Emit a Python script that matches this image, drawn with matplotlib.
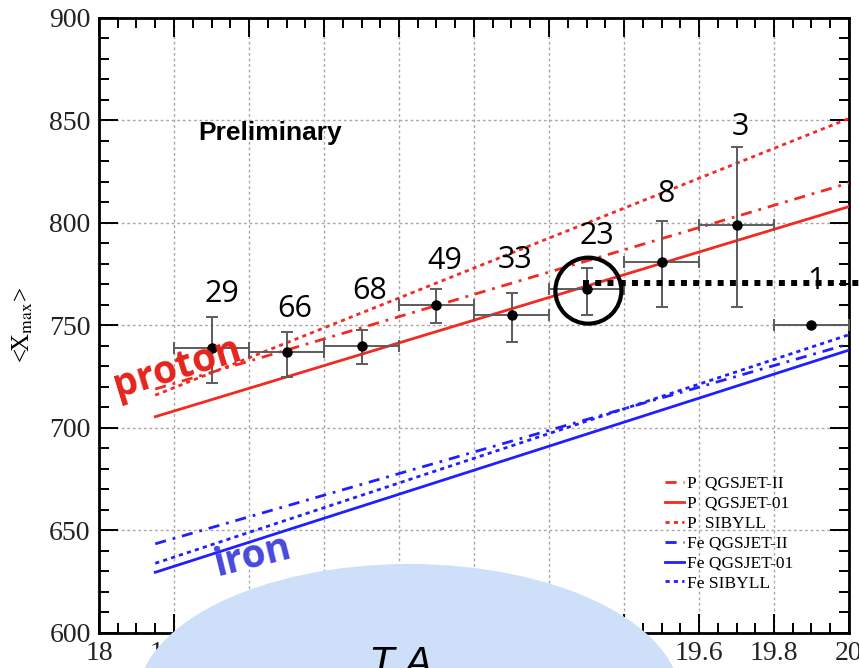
"""
Mean depth of shower maximum vs energy, with proton / iron model lines
"""
import matplotlib
matplotlib.use("Agg")
from matplotlib import pyplot as plt
from matplotlib.patches import Ellipse
from matplotlib.ticker import MultipleLocator

plt.rcParams["font.family"] = ["Liberation Serif", "DejaVu Serif"]
plt.rcParams["mathtext.fontset"] = "stix"

# measured <Xmax> per energy bin
log_e = [18.3, 18.5, 18.7, 18.9, 19.1, 19.3, 19.5, 19.7, 19.9]
xmax = [739, 737, 740, 760, 755, 768, 781, 799, 750]
err_lo = [17, 12, 9, 9, 13, 13, 22, 40, 0]
err_hi = [15, 10, 8, 8, 11, 10, 20, 38, 0]
bin_half = [0.1] * 9
n_events = [29, 66, 68, 49, 33, 23, 8, 3, 1]

# model predictions, given at the two ends of the energy range
model_e = [18.15, 20.0]
models = [
    ("P  QGSJET-II", [719, 819.5]),
    ("P  QGSJET-01", [705.5, 808]),
    ("P  SIBYLL", [716, 851]),
    ("Fe QGSJET-II", [643.5, 741]),
    ("Fe QGSJET-01", [629.6, 738]),
    ("Fe SIBYLL", [634, 745.5]),
]

W, H = 859, 668
fig = plt.figure(figsize=(W / 100, H / 100), dpi=100)
ax = fig.add_axes([99 / W, 35 / H, 750 / W, 615 / H])

RED = "#f22a22"
BLUE = "#1f1fff"
styles = [
    dict(color=RED, ls=(0, (4, 2.5, 1, 2.5))),
    dict(color=RED, ls="-"),
    dict(color=RED, ls=(0, (1.5, 1.5))),
    dict(color=BLUE, ls=(0, (4, 2.5, 1, 2.5))),
    dict(color=BLUE, ls="-"),
    dict(color=BLUE, ls=(0, (1.5, 1.5))),
]
for (label, ends), st in zip(models, styles):
    ax.plot(model_e, ends, lw=2.0, label=label, zorder=3, **st)

ax.errorbar(log_e, xmax, yerr=[err_lo, err_hi], xerr=bin_half,
            fmt="o", color="black", ms=6.5, ecolor="#5c5c5c",
            elinewidth=1.4, capsize=4, capthick=1.4, zorder=4)

# event counts above each bin
label_lift = [23, 23, 39, 28, 33, 32, 27, 20, 44]
label_shift = [10, 8, 8, 8, 4, 10, 5, 4, 4]
for x, y, hi, n, dy, dx in zip(log_e, xmax, err_hi, n_events,
                               label_lift, label_shift):
    ax.annotate(str(n), (x, y + hi), xytext=(dx * 0.72, dy * 0.72),
                textcoords="offset points", ha="center", va="center",
                fontsize=22, family="Open Sans", color="black", zorder=6)

# highlight the 19.3 bin
hl = log_e[5], xmax[5]
ax.add_patch(Ellipse((hl[0] + 0.005, hl[1] - 1), 66 / 375, 66 / 2.05,
                     fill=False, lw=3, ec="black", zorder=7))
ax.plot([hl[0] - 0.01, 20.05], [770.8, 770.8], color="black", lw=4.3,
        ls=(0, (1, 1.05)), clip_on=False, zorder=7)

ax.set_xlim(18, 20)
ax.set_ylim(600, 900)
ax.xaxis.set_minor_locator(MultipleLocator(0.05))
ax.yaxis.set_major_locator(MultipleLocator(50))
ax.yaxis.set_minor_locator(MultipleLocator(10))
ax.set_xticks([18, 18.2, 18.4, 18.6, 18.8, 19, 19.2, 19.4, 19.6, 19.8, 20])
ax.set_xticklabels(["18", "18.2", "18.4", "18.6", "18.8", "19", "19.2",
                    "19.4", "19.6", "19.8", "20"])
ax.tick_params(which="both", direction="in", top=True, right=True,
               width=1.4, colors="black", labelcolor="#222222",
               labelfontfamily="Liberation Serif")
ax.tick_params(which="major", length=14, pad=6, labelsize=20)
ax.tick_params(which="minor", length=7)
for sp in ax.spines.values():
    sp.set_linewidth(2)
ax.grid(True, which="major", color="#a8a8a8", lw=1.0, ls=(0, (2, 2)))
ax.set_axisbelow(True)

ax.set_ylabel(r"<X$_{\rm max}$>", fontsize=18, labelpad=10)

ax.text(0.228, 0.813, "Preliminary", transform=ax.transAxes, ha="center",
        va="center", fontsize=19, weight="bold", family="Liberation Sans")
ax.text(0.105, 0.43, "proton", transform=ax.transAxes, ha="center",
        va="center", fontsize=28, weight="bold", family="Open Sans",
        color="#e5241d", rotation=17, zorder=8)
ax.text(0.205, 0.125, "iron", transform=ax.transAxes, ha="center",
        va="center", fontsize=28, weight="bold", family="Open Sans",
        color="#4848dc", rotation=14, zorder=8)

ax.legend(loc="upper left", bbox_to_anchor=(0.755, 0.256), frameon=False,
          borderpad=0, borderaxespad=0, handlelength=1.1, handletextpad=0.15,
          labelspacing=0.22, prop={"size": 12.5})

# light blue badge over the bottom of the figure
badge = Ellipse((409 / W, 1 - 700 / H), 2 * 272 / W, 2 * 136 / H,
                transform=fig.transFigure, fc="#cddff9", ec="none",
                zorder=10)
fig.patches.append(badge)
fig.text(401 / W, 1 - 645 / H, "T A", ha="center", va="top", fontsize=30,
         style="italic", family="Liberation Sans", zorder=11)

fig.savefig("out.png", dpi=100)
